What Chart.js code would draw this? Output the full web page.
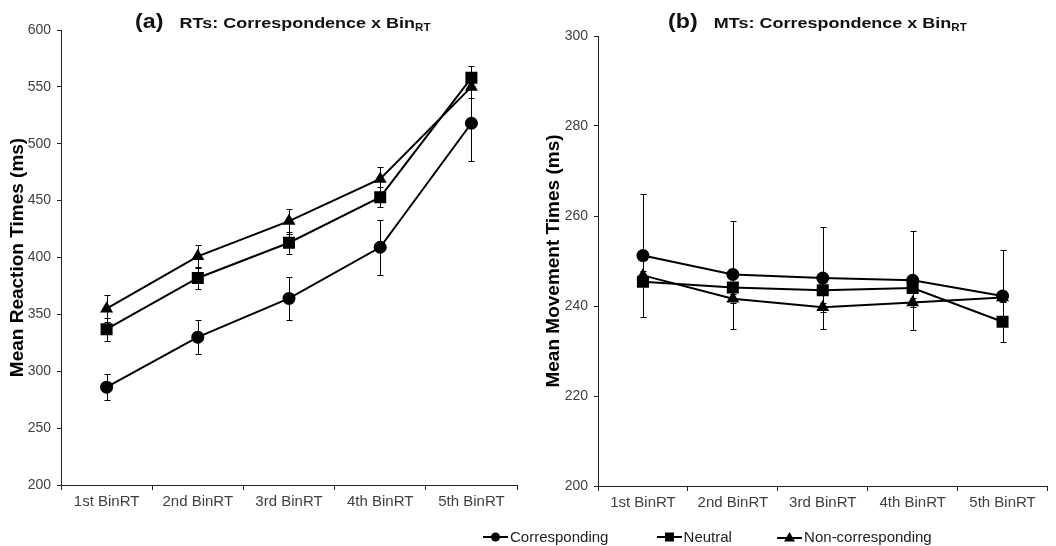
<!DOCTYPE html>
<html>
<head>
<meta charset="utf-8">
<script src="https://cdn.jsdelivr.net/npm/chart.js@4"></script>
<style>
    html, body { margin: 0; padding: 0; background: #fff; }
    body { width: 1056px; height: 546px; position: relative; overflow: hidden; font-family: "Liberation Sans", Arial, sans-serif; }
    .panel { position: absolute; top: 0; width: 528px; height: 546px; }
    .panel canvas { position: absolute; left: 0; top: 0; }
    .title { position: absolute; top: 10px; font-weight: bold; color: #111; white-space: nowrap; transform: scaleX(1.16); transform-origin: left top; }
    .title .tag { font-size: 20px; margin-right: 14px; }
    .title .txt { font-size: 15.5px; }
    .title sub { font-size: 10px; vertical-align: -3px; }
    #legend { position: absolute; top: 528px; left: 483px; font-size: 15px; color: #222; white-space: nowrap; }
    #legend span.item { display: inline-flex; align-items: center; }
    #legend svg { margin-right: 2px; }
</style>
</head>
<body>
<div class="panel" style="left:0"><canvas id="rtChart" width="528" height="546"></canvas></div>
<div class="panel" style="left:528px"><canvas id="mtChart" width="528" height="546"></canvas></div>
<div class="title" style="left:135px"><span class="tag">(a)</span><span class="txt">RTs: Correspondence x Bin<sub>RT</sub></span></div>
<div class="title" style="left:668px"><span class="tag">(b)</span><span class="txt">MTs: Correspondence x Bin<sub>RT</sub></span></div>
<div id="legend">
    <span class="item" style="margin-right:44px"><svg width="25" height="12"><line x1="0" y1="6" x2="25" y2="6" stroke="#000" stroke-width="2"/><circle cx="12.5" cy="6" r="4.5" fill="#000"/></svg>Corresponding</span>
    <span class="item" style="margin-right:41px"><svg width="25" height="12"><line x1="0" y1="6" x2="25" y2="6" stroke="#000" stroke-width="2"/><rect x="8" y="1.5" width="9" height="9" fill="#000"/></svg>Neutral</span>
    <span class="item"><svg width="25" height="12"><line x1="0" y1="7" x2="25" y2="7" stroke="#000" stroke-width="2"/><polygon points="12.5,1 18,10.5 7,10.5" fill="#000"/></svg>Non-corresponding</span>
</div>
<script>
// --- DATA ---
const bins = ['1st BinRT', '2nd BinRT', '3rd BinRT', '4th BinRT', '5th BinRT'];
const seriesNames = ['Corresponding', 'Neutral', 'Non-corresponding'];

// (a) reaction times, ms
const rtCorr = [286, 330, 364, 409, 518];
const rtCorrErr = [11.5, 15, 19, 24, 33];
const rtNeut = [337, 382, 413, 453, 558];
const rtNeutErr = [10, 10, 9.5, 9, 10];
const rtNon = [355, 401, 432, 469, 550];
const rtNonErr = [12, 10, 11, 11, 10];
const rtTicks = [200, 600, 50];

// (b) movement times, ms
const mtCorr = [251.2, 247, 246.2, 245.7, 242.2];
const mtCorrErr = [13.7, 12, 11.3, 11, 10.2];
const mtNeut = [245.4, 244.1, 243.5, 244, 236.5];
const mtNeutErr = [1, 1, 1, 1, 1];
const mtNon = [246.8, 241.6, 239.7, 240.8, 241.9];
const mtNonErr = [1, 1, 1, 1, 1];
const mtTicks = [200, 300, 20];

// --- ERROR BAR PLUGIN ---
const errorBars = {
    id: 'errorBars',
    beforeDatasetsDraw(chart) {
        const ctx = chart.ctx;
        const y = chart.scales.y;
        ctx.save();
        ctx.strokeStyle = '#000';
        ctx.lineWidth = 1;
        chart.data.datasets.forEach((ds, di) => {
            const meta = chart.getDatasetMeta(di);
            meta.data.forEach((pt, i) => {
                const e = ds.errors[i];
                const top = Math.round(y.getPixelForValue(ds.data[i] + e)) + 0.5;
                const bot = Math.round(y.getPixelForValue(ds.data[i] - e)) + 0.5;
                const x = Math.round(pt.x) + 0.5;
                ctx.beginPath();
                ctx.moveTo(x, top); ctx.lineTo(x, bot);
                ctx.moveTo(x - 3, top); ctx.lineTo(x + 3, top);
                ctx.moveTo(x - 3, bot); ctx.lineTo(x + 3, bot);
                ctx.stroke();
            });
        });
        ctx.restore();
    }
};

const makeSet = (label, data, errors, style, radius) => ({
    label, data, errors,
    borderColor: '#000',
    backgroundColor: '#000',
    borderWidth: 2,
    pointStyle: style,
    pointRadius: radius,
    pointBorderWidth: 0,
    tension: 0,
});

// geo: [axisBottomPx, bottomPad, topPad, padLeft, axisWidth, padRight]
const makeChart = (id, sets, range, yTitle, geo) => {
    new Chart(document.getElementById(id), {
        type: 'line',
        data: { labels: bins, datasets: sets },
        options: {
            responsive: false,
            animation: false,
            layout: { padding: { left: geo[3], right: geo[5], top: geo[2], bottom: geo[1] } },
            plugins: { legend: { display: false }, tooltip: { enabled: false } },
            scales: {
                x: {
                    offset: true,
                    grid: { offset: true, drawOnChartArea: false, color: '#222', tickLength: 5 },
                    border: { color: '#222', width: 1 },
                    ticks: { color: '#404040', font: { family: 'Liberation Sans', size: 15 }, padding: 3, maxRotation: 0 },
                    afterFit: (s) => { s.height = 546 - geo[0] - geo[1]; },
                },
                y: {
                    min: range[0], max: range[1],
                    ticks: { stepSize: range[2], color: '#404040', font: { family: 'Liberation Sans', size: 14 }, padding: 6 },
                    grid: { drawOnChartArea: false, color: '#222', tickLength: 4 },
                    border: { color: '#222', width: 1 },
                    title: { display: true, text: yTitle, color: '#000', font: { family: 'Liberation Sans', size: 19, weight: 'bold' }, padding: 0 },
                    afterFit: (s) => { s.width = geo[4]; },
                }
            }
        },
        plugins: [errorBars]
    });
};

makeChart('rtChart', [
    makeSet(seriesNames[0], rtCorr, rtCorrErr, 'circle', 6.5),
    makeSet(seriesNames[1], rtNeut, rtNeutErr, 'rect', 8.5),
    makeSet(seriesNames[2], rtNon, rtNonErr, 'triangle', 7.5),
], rtTicks, 'Mean Reaction Times (ms)', [485, 30, 30, 6, 55, 11]);

makeChart('mtChart', [
    makeSet(seriesNames[0], mtCorr, mtCorrErr, 'circle', 6.5),
    makeSet(seriesNames[1], mtNeut, mtNeutErr, 'rect', 8.5),
    makeSet(seriesNames[2], mtNon, mtNonErr, 'triangle', 7.5),
], mtTicks, 'Mean Movement Times (ms)', [486, 30, 36, 14, 56, 5]);
</script>
</body>
</html>
